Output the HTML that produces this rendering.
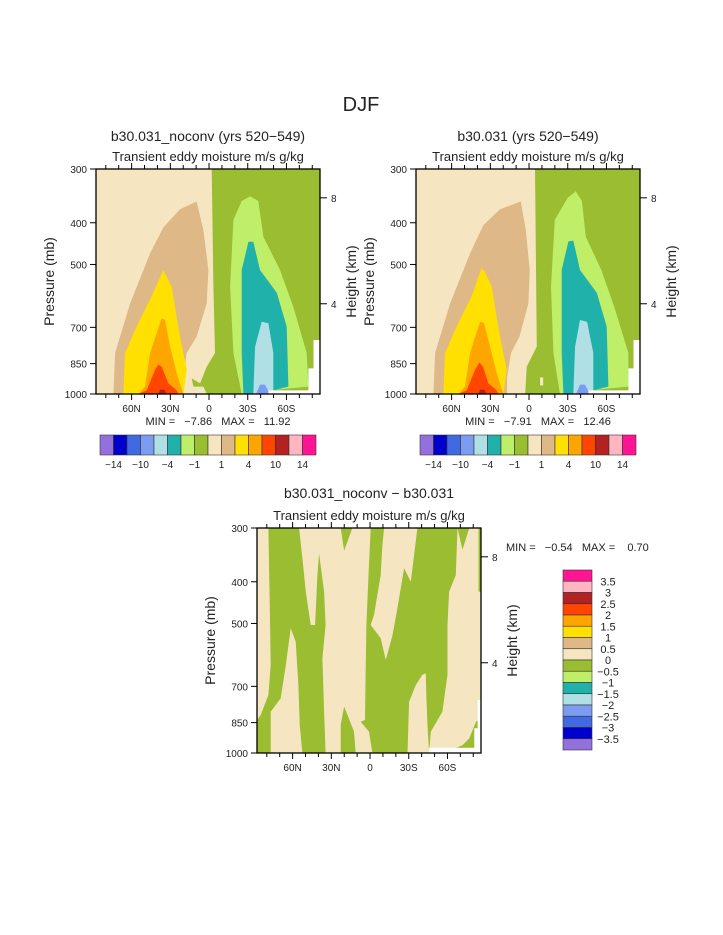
<!DOCTYPE html>
<html><head><meta charset="utf-8">
<style>
html,body{margin:0;padding:0;background:#fff;}
svg{display:block;font-family:"Liberation Sans",sans-serif;}
text{fill:#222;white-space:pre;}
</style></head>
<body>
<svg id="chart" width="723" height="935" viewBox="0 0 723 935" xmlns="http://www.w3.org/2000/svg">
<text x="361" y="111" font-size="20" text-anchor="middle" fill="#444">DJF</text>
<g id="panels"></g>
</svg>
<script>
// ---- data (lat in degrees N positive, pressure in mb) ----
const latTicks = [60, 30, 0, -30, -60];
const latLabels = ["60N", "30N", "0", "30S", "60S"];
const presTicks = [300, 400, 500, 700, 850, 1000];
const heightTicks = [8, 4];
const heightTickP = [350, 617];
const topLevels = ["−14", "−10", "−4", "−1", "1", "4", "10", "14"];
const topColors = ["#9370DB","#0000CD","#4169E1","#7B9CF0","#B0E0E6","#20B2AA","#BFEF68","#9ABD32","#F5E6C1","#DEB887","#FFE000","#FFA500","#FF4500","#B22222","#FFB6C1","#FF1493"];
const diffLevels = ["3.5","3","2.5","2","1.5","1","0.5","0","−0.5","−1","−1.5","−2","−2.5","−3","−3.5"];

// Panel 1 (noconv) contour regions
const p1Tan = [[74.1,1000],[72.8,803],[61.2,616],[45.7,471],[35.4,410],[22.5,372],[9.6,357],[4.4,416],[0.5,515],[1.8,616],[9.6,736],[17.3,803],[19.9,915],[19.9,1000]];
const p1Gold = [[66.4,1000],[65.1,803],[56.1,697],[44.4,592],[35.4,515],[34.1,525],[28.9,563],[22.5,736],[17.3,879],[19.9,1000]];
const p1Orange = [[54.8,1000],[49.6,961],[45.7,803],[36.7,667],[34.1,673],[30.2,776],[25.1,894],[19.9,1000]];
const p1Red = [[54.8,1000],[48.3,981],[41.9,879],[39.3,855],[36.7,864],[31.5,945],[25.1,981],[23.8,1000]];
const p1DarkRed = [[39.3,1000],[38,978],[34.5,978],[33,1000]];
const p1Green = [[-2.1,300],[-3.4,563],[-4.6,803],[1.8,864],[6.9,945],[13.4,920],[12.1,961],[4.4,961],[1.8,1000],[-86,1000],[-86,300]];
const p1LightGreen = [[-25.3,1000],[-18.9,803],[-16.3,563],[-18.9,394],[-25.3,356],[-31.8,347],[-38.2,356],[-42.1,431],[-55,515],[-65.3,627],[-75.7,803],[-77,961],[-46,981],[-46,1000]];
const p1Teal = [[-26.6,1000],[-25.3,803],[-25.3,515],[-30.5,443],[-34.3,443],[-39.5,515],[-52.5,582],[-60.2,697],[-61.5,961],[-49.8,981],[-49.8,1000]];
const p1LightBlue = [[-34.3,1000],[-35.7,776],[-40.8,679],[-46,685],[-49.8,803],[-49.8,981],[-47,1000]];
const p1Cornflower = [[-36.5,1000],[-39.5,951],[-43.4,951],[-46,985],[-46,1000]];
const missing = [[-46,1000],[-46,981],[-77,981],[-77,872],[-81,872],[-81,749],[-86,749],[-86,1000]];

// Panel 2 (control) contour regions
const p2Tan = [[74.1,1000],[72.8,803],[61.2,616],[45.7,471],[35.4,405],[22.5,372],[6.4,357],[2.5,416],[-0.5,515],[0.5,616],[7.5,736],[14,803],[17,915],[17,1000]];
const p2Gold = [[66.4,1000],[65.1,803],[56.1,697],[44.4,592],[37,510],[34.1,520],[28.9,563],[22.5,736],[17.3,879],[19.9,1000]];
const p2Orange = [[54.8,1000],[49.6,961],[45.7,803],[38,680],[35,683],[30.2,776],[25.1,894],[19.9,1000]];
const p2Red = [[54.8,1000],[48.3,981],[41.9,879],[38.5,845],[35.7,864],[31.5,945],[25.1,981],[23.8,1000]];
const p2DarkRed = [[39.3,1000],[38,978],[34.5,978],[33,1000]];
const p2Green = [[-4.6,300],[-6,776],[1.8,864],[3,1000],[-86,1000],[-86,300]];
const p2Blob = [[-8.5,915],[-11,915],[-11,955],[-8.5,955]];
const p2LightGreen = [[-24,1000],[-18.9,803],[-17,563],[-20,394],[-30,350],[-36.2,338],[-41,356],[-44,431],[-56,515],[-66,627],[-77,803],[-77,961],[-46,981],[-46,1000]];
const p2Teal = [[-26.6,1000],[-25.3,803],[-25.3,515],[-30.5,442],[-34.3,440],[-39.5,515],[-52.5,582],[-60.2,697],[-61.5,961],[-49.8,981],[-49.8,1000]];
const p2LightBlue = [[-34.3,1000],[-35.7,776],[-39.5,673],[-45,680],[-49.8,803],[-49.8,981],[-47,1000]];
const p2Cornflower = [[-36.5,1000],[-39.5,951],[-43.4,951],[-46,985],[-46,1000]];

// Panel 3 (difference) wheat regions (positive) on green background
const dW1 = [[87.6,300],[78.8,300],[77.7,461],[77,625],[78.8,733],[84.7,816],[87.6,838]];
const dW2 = [[77,1000],[77,802],[69.2,746],[65.3,625],[61.5,513],[57.6,551],[55.5,695],[54.5,861],[52.4,1000]];
const dW4 = [[55,300],[22.7,300],[20.1,339],[13.7,300],[-0.5,300],[1.2,386],[2.8,504],[3.4,658],[3.9,838],[7.2,846],[0.8,892],[-1.8,1000],[11.1,1000],[12.4,892],[17.5,816],[20.1,780],[22.7,861],[22.7,1000],[34.4,1000],[35.6,802],[36.9,602],[34.4,504],[35.6,422],[39.5,344],[40.8,386],[42.6,504],[46,504],[49.8,422],[52.4,353]];
const dW5 = [[-10.9,300],[-36.7,300],[-31.6,400],[-26.4,372],[-21.2,461],[-17.4,532],[-12.2,608],[-8.3,541],[-0.5,504],[-3.1,478],[-8.3,386],[-9.6,329]];
const dW6 = [[-29,1000],[-30.3,760],[-35.5,695],[-40.6,658],[-43.2,653],[-43.7,746],[-44.5,861],[-45.8,1000]];
const dW7 = [[-67.8,300],[-71.7,337],[-76.9,300],[-84.1,300],[-84.1,422],[-86,422],[-86,831],[-82.1,846],[-76.9,924],[-71.7,959],[-65.2,976],[-60,1000],[-45.8,1000],[-47.1,892],[-56.1,802],[-60,658],[-60,504],[-61.3,422],[-66.5,386]];
const dMissing = [[-45.8,1000],[-45.8,972],[-80.8,972],[-80.8,876],[-83.4,876],[-83.4,753],[-86,753],[-86,1000]];

const LAT0 = 87.6, LAT1 = -86, P0 = 300, P1 = 1000;
const NS = "http://www.w3.org/2000/svg";
const root = document.getElementById("panels");

function mk(tag, attrs, parent) {
  const e = document.createElementNS(NS, tag);
  for (const k in attrs) e.setAttribute(k, attrs[k]);
  (parent || root).appendChild(e);
  return e;
}
function xs(b, lat) { return b.x0 + (LAT0 - lat) / (LAT0 - LAT1) * (b.x1 - b.x0); }
function ys(b, p) { return b.y0 + Math.log(p / P0) / Math.log(P1 / P0) * (b.y1 - b.y0); }

function region(b, g, pts, color, name) {
  const d = pts.map((q, i) => (i ? "L" : "M") + xs(b, q[0]).toFixed(1) + " " + ys(b, q[1]).toFixed(1)).join(" ") + "Z";
  const el = mk("path", { d: d, fill: color }, g);
  
  
}

function txt(x, y, s, size, anchor, parent, rot) {
  const t = mk("text", { x: x, y: y, "font-size": size, "text-anchor": anchor || "middle" }, parent);
  if (rot) t.setAttribute("transform", "rotate(" + rot + " " + x + " " + y + ")");
  t.textContent = s;
  return t;
}

function axes(b, g) {
  const cp = mk("rect", { x: b.x0, y: b.y0, width: b.x1 - b.x0, height: b.y1 - b.y0, fill: "none", stroke: "#000", "stroke-width": 1.3 }, g);
  
  
  for (let lat = 80; lat >= -80; lat -= 10) {
    const x = xs(b, lat), major = (lat % 30 === 0);
    mk("line", { x1: x, x2: x, y1: b.y1, y2: b.y1 + (major ? 6 : 4), stroke: "#000" }, g);
    mk("line", { x1: x, x2: x, y1: b.y0, y2: b.y0 - (major ? 6 : 4), stroke: "#000" }, g);
  }
  latTicks.forEach((lat, i) => {
    const t = txt(xs(b, lat), b.y1 + 18, latLabels[i], 10, "middle", g);
    
    
  });
  presTicks.forEach(p => {
    const y = ys(b, p);
    mk("line", { x1: b.x0 - 6, x2: b.x0, y1: y, y2: y, stroke: "#000" }, g);
    const t = txt(b.x0 - 9, y + 4, String(p), 10, "end", g);
    
    
  });
  heightTicks.forEach((h, i) => {
    const y = ys(b, heightTickP[i]);
    mk("line", { x1: b.x1, x2: b.x1 + 7, y1: y, y2: y, stroke: "#000" }, g);
    const t = txt(b.x1 + 11, y + 4, String(h), 10, "start", g);
    
    
  });
  const yl = txt(b.x0 - 42, (b.y0 + b.y1) / 2, "Pressure (mb)", 14, "middle", g, -90);
  
  
  const hl = txt(b.x1 + 36, (b.y0 + b.y1) / 2, "Height (km)", 14, "middle", g, -90);
  
  
}

function hbar(x0, y0, g) {
  const w = 13.5, h = 20;
  topColors.forEach((c, i) => {
    const r = mk("rect", { x: x0 + i * w, y: y0, width: w, height: h, fill: c, stroke: "#333", "stroke-width": 0.6 }, g);
    
    
  });
  topLevels.forEach((s, i) => {
    const t = txt(x0 + (2 * i + 1) * w, y0 + h + 13, s, 10, "middle", g);
    
    
  });
}

function topPanel(b, title, minmax, sets, name) {
  const g = mk("g", {});
  
  
  const cx = (b.x0 + b.x1) / 2;
  const t1 = txt(cx, 141, title, 14, "middle", g);  
  const t2 = txt(cx, 161, "Transient eddy moisture m/s g/kg", 13, "middle", g);  
  const bg = mk("rect", { x: b.x0, y: b.y0, width: b.x1 - b.x0, height: b.y1 - b.y0, fill: "#F5E6C1" }, g);
   
  sets.forEach(s => region(b, g, s[0], s[1], s[2]));
  axes(b, g);
  const mm = txt(cx + 10, b.y1 + 31, minmax, 11, "middle", g);
   
  const cb = mk("g", {}, g);
   
  hbar(b.x0 + 4, 435, cb);
}

topPanel({ x0: 96, x1: 320, y0: 169, y1: 394 }, "b30.031_noconv (yrs 520−549)", "MIN =   −7.86   MAX =   11.92", [
  [p1Tan, "#DEB887", "contour-1-2"], [p1Gold, "#FFE000", "contour-2-4"], [p1Orange, "#FFA500", "contour-4-6"],
  [p1Red, "#FF4500", "contour-6-8"], [p1DarkRed, "#B22222", "contour-8-10"],
  [p1Green, "#9ABD32", "contour-neg1"], [p1LightGreen, "#BFEF68", "contour-neg2"], [p1Teal, "#20B2AA", "contour-neg4"],
  [p1LightBlue, "#B0E0E6", "contour-neg6"], [p1Cornflower, "#7B9CF0", "contour-neg8"], [missing, "#FFFFFF", "missing-data"]
], "panel-noconv");

topPanel({ x0: 416, x1: 640, y0: 169, y1: 394 }, "b30.031 (yrs 520−549)", "MIN =   −7.91   MAX =   12.46", [
  [p2Tan, "#DEB887", "contour-1-2"], [p2Gold, "#FFE000", "contour-2-4"], [p2Orange, "#FFA500", "contour-4-6"],
  [p2Red, "#FF4500", "contour-6-8"], [p2DarkRed, "#B22222", "contour-8-10"],
  [p2Green, "#9ABD32", "contour-neg1"], [p2Blob, "#F5E6C1", "contour-blob"], [p2LightGreen, "#BFEF68", "contour-neg2"], [p2Teal, "#20B2AA", "contour-neg4"],
  [p2LightBlue, "#B0E0E6", "contour-neg6"], [p2Cornflower, "#7B9CF0", "contour-neg8"], [missing, "#FFFFFF", "missing-data"]
], "panel-control");

// difference panel
(function () {
  const b = { x0: 257, x1: 481, y0: 528, y1: 753 };
  const g = mk("g", {});
  
  
  const cx = (b.x0 + b.x1) / 2;
  const t1 = txt(cx, 498, "b30.031_noconv − b30.031", 14, "middle", g);  
  const t2 = txt(cx, 520, "Transient eddy moisture m/s g/kg", 13, "middle", g);  
  const bg = mk("rect", { x: b.x0, y: b.y0, width: b.x1 - b.x0, height: b.y1 - b.y0, fill: "#9ABD32" }, g);
   
  [dW1, dW2, dW4, dW5, dW6, dW7].forEach(w => region(b, g, w, "#F5E6C1", "contour-0-0.5"));
  region(b, g, dMissing, "#FFFFFF", "missing-data");
  axes(b, g);
  const mm = txt(506, 551, "MIN =   −0.54   MAX =    0.70", 11, "start", g);
   
  const cb = mk("g", {}, g);
   
  const rev = topColors.slice().reverse();
  const h = 11.25;
  rev.forEach((c, i) => {
    const r = mk("rect", { x: 563, y: 570 + i * h, width: 29, height: h, fill: c, stroke: "#333", "stroke-width": 0.6 }, cb);
    
    
  });
  diffLevels.forEach((s, i) => {
    const t = txt(608, 570 + (i + 1) * h + 4, s, 11, "middle", cb);
    
    
  });
})();
</script>
</body></html>
